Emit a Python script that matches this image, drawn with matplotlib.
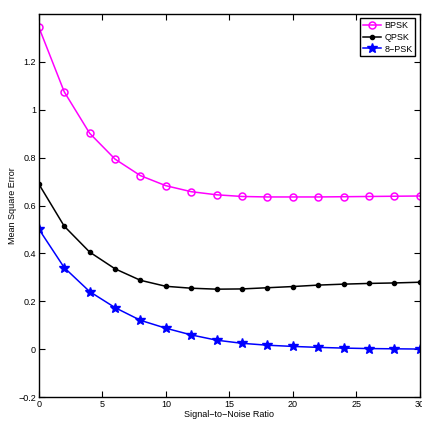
import numpy as np
import matplotlib.pyplot as plt
from matplotlib.ticker import FuncFormatter

snr = [0, 2, 4, 6, 8, 10, 12, 14, 16, 18, 20, 22, 24, 26, 28, 30]
mse_bpsk = [1.345, 1.075, 0.902, 0.794, 0.725, 0.683, 0.658, 0.645, 0.638, 0.636,
            0.636, 0.636, 0.637, 0.638, 0.639, 0.640]
mse_qpsk = [0.690, 0.514, 0.406, 0.336, 0.288, 0.263, 0.255, 0.251, 0.252, 0.257,
            0.262, 0.268, 0.272, 0.275, 0.277, 0.280]
mse_8psk = [0.502, 0.341, 0.241, 0.174, 0.121, 0.088, 0.060, 0.038, 0.025, 0.017,
            0.012, 0.008, 0.005, 0.003, 0.002, 0.001]

plt.rcParams['font.family'] = ['Liberation Sans', 'DejaVu Sans']

fig = plt.figure(figsize=(4.22, 4.23), dpi=100)
ax = fig.add_axes([0.092, 0.061, 0.903, 0.906])

ax.plot(snr, mse_bpsk, '-o', color='magenta', lw=1.1, ms=5, mfc='none', mew=1.1, label='BPSK')
ax.plot(snr, mse_qpsk, '-o', color='black', lw=1.1, ms=3, label='QPSK')
ax.plot(snr, mse_8psk, '-*', color='blue', lw=1.1, ms=7, label='8\u2212PSK')

ax.set_xlim(0, 30)
ax.set_ylim(-0.2, 1.4)
ax.set_xticks(np.arange(0, 31, 5))
ax.set_yticks([-0.2, 0, 0.2, 0.4, 0.6, 0.8, 1.0, 1.2])
ax.yaxis.set_major_formatter(FuncFormatter(lambda v, p: ('%g' % round(v, 2)).replace('-', '\u2212')))
ax.tick_params(direction='in', top=True, right=True, labelsize=6.5, length=4, pad=2)
for s in ax.spines.values():
    s.set_linewidth(1.0)

ax.set_xlabel('Signal\u2212to\u2212Noise Ratio', fontsize=6.5, labelpad=1)
ax.set_ylabel('Mean Square Error', fontsize=6.5)
ax.yaxis.set_label_coords(-0.058, 0.5)

leg = ax.legend(loc='upper right', fontsize=6.5, fancybox=False, framealpha=1,
                edgecolor='black', handlelength=2.0, borderaxespad=0.5, borderpad=0.3,
                labelspacing=0.3, handletextpad=0.4)
leg.get_frame().set_linewidth(1.0)

fig.savefig('out.png', dpi=100)
